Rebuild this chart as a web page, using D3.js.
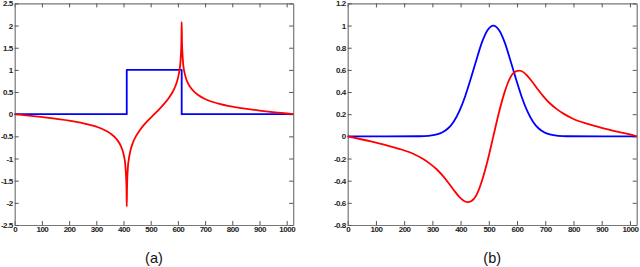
<!DOCTYPE html>
<html>
<head>
<meta charset="utf-8">
<script src="https://cdn.jsdelivr.net/npm/d3@7"></script>
<style>
    body { margin: 0; background: #fff; }
    svg { display: block; }
    .tick text { font-family: "Liberation Sans", Arial, sans-serif; font-size: 8px; font-weight: bold; letter-spacing: -0.5px; fill: #222; }
    .panel-label { font-family: "Liberation Sans", Arial, sans-serif; font-size: 14.5px; fill: #111; }
</style>
</head>
<body>
<svg id="svg"></svg>
<script>
// ---- data ----
const xTicks = [0, 100, 200, 300, 400, 500, 600, 700, 800, 900, 1000];
const yTicksA = [-2.5, -2, -1.5, -1, -0.5, 0, 0.5, 1, 1.5, 2, 2.5];
const yTicksB = [-0.8, -0.6, -0.4, -0.2, 0, 0.2, 0.4, 0.6, 0.8, 1, 1.2];
const panelLabels = ["(a)", "(b)"];

// (a) rectangle pulse
const rectX = [0, 412, 412, 614, 614, 1024];
const rectY = [0, 0, 1, 1, 0, 0];

// (a) its Hilbert transform
const hilbRectX = [0, 26, 60, 126, 200, 226, 280, 326, 350, 376, 390, 396, 402, 406, 409, 411, 412, 413, 416, 420, 426, 435, 446, 460, 476, 495, 513,
    531, 550, 566, 580, 591, 600, 606, 610, 613, 614, 615, 617, 620, 624, 630, 636, 650, 676, 700, 746, 800, 826, 900, 966, 1000, 1024];
const hilbRectY = [0, -0.016, -0.037, -0.083, -0.145, -0.171, -0.245, -0.344, -0.427, -0.573, -0.714, -0.807, -0.949, -1.10, -1.35, -1.65, -2.08, -1.67, -1.22, -1.0, -0.809, -0.637, -0.495, -0.36, -0.237, -0.111, 0,
    0.111, 0.237, 0.36, 0.495, 0.637, 0.809, 1.0, 1.22, 1.67, 2.08, 1.65, 1.35, 1.10, 0.949, 0.807, 0.714, 0.573, 0.427, 0.344, 0.245, 0.171, 0.145, 0.083, 0.037, 0.016, 0];

// (b) gaussian pulse
const gaussX = [0, 256, 286, 316, 336, 356, 376, 396, 416, 436, 456, 476, 496, 516, 536, 556, 576, 596, 616, 636, 656, 676, 696, 716, 746, 776, 1024];
const gaussY = [0, 0.001, 0.0045, 0.017, 0.037, 0.073, 0.135, 0.23, 0.36, 0.52, 0.69, 0.85, 0.96, 1, 0.96, 0.85, 0.69, 0.52, 0.36, 0.23, 0.135, 0.073, 0.037, 0.017, 0.0045, 0.001, 0];

// (b) its Hilbert transform
const hilbGaussX = [0, 32, 82, 132, 182, 232, 266, 291, 316, 338, 358, 377, 397, 417, 425, 437, 457, 476, 496, 516,
    536, 556, 575, 595, 607, 615, 635, 655, 674, 694, 716, 741, 766, 800, 850, 900, 950, 1000, 1024];
const hilbGaussY = [0, -0.017, -0.045, -0.076, -0.112, -0.157, -0.203, -0.246, -0.299, -0.359, -0.423, -0.488, -0.551, -0.590, -0.594, -0.586, -0.526, -0.399, -0.216, 0,
    0.216, 0.399, 0.526, 0.586, 0.594, 0.590, 0.551, 0.488, 0.423, 0.359, 0.299, 0.246, 0.203, 0.157, 0.112, 0.076, 0.045, 0.017, 0];

const width = 640;
const height = 267;

let svg = d3.select("#svg")
    .attr("width", width)
    .attr("height", height);

function zipXY(xs, ys) {
    return xs.map((x, i) => [x, ys[i]]);
}

// matlab style labels: plain hyphen, no thousands comma
function tickText(d) {
    return String(d);
}

function drawPanel(box, yDomain, yTicks, series, label) {
    let xScale = d3.scaleLinear().domain([0, 1024]).range([box.left, box.right]);
    let yScale = d3.scaleLinear().domain(yDomain).range([box.bottom, box.top]);

    let g = svg.append("g");

    // axes, ticks pointing inward
    g.append("g")
        .attr("transform", `translate(0,${box.bottom})`)
        .call(d3.axisBottom(xScale).tickValues(xTicks).tickSizeInner(-4).tickSizeOuter(0).tickPadding(1.5).tickFormat(tickText));

    g.append("g")
        .attr("transform", `translate(0,${box.top})`)
        .call(d3.axisTop(xScale).tickValues(xTicks).tickSizeInner(-4).tickSizeOuter(0).tickFormat(""));

    g.append("g")
        .attr("transform", `translate(${box.left},0)`)
        .call(d3.axisLeft(yScale).tickValues(yTicks).tickSizeInner(-4).tickSizeOuter(0).tickPadding(2).tickFormat(tickText));

    g.append("g")
        .attr("transform", `translate(${box.right},0)`)
        .call(d3.axisRight(yScale).tickValues(yTicks).tickSizeInner(-4).tickSizeOuter(0).tickFormat(""));

    g.selectAll(".domain").attr("stroke", "#777").attr("stroke-width", 1.2);
    g.selectAll(".tick line").attr("stroke", "#555");

    // the curves
    for (let s of series) {
        let line = d3.line()
            .curve(s.smooth ? d3.curveMonotoneX : d3.curveLinear)
            .x(d => xScale(d[0]))
            .y(d => yScale(d[1]));

        g.append("path")
            .datum(zipXY(s.x, s.y))
            .attr("fill", "none")
            .attr("stroke", s.color)
            .attr("stroke-width", 1.8)
            .attr("stroke-linejoin", "round")
            .attr("d", line);
    }

    // panel caption
    svg.append("text")
        .attr("class", "panel-label")
        .attr("x", (box.left + box.right) / 2)
        .attr("y", 263)
        .attr("text-anchor", "middle")
        .text(label);
}

drawPanel({ left: 14.7, right: 293.2, top: 3.4, bottom: 225 }, [-2.5, 2.5], yTicksA, [
    { x: rectX, y: rectY, color: "#0000ff", smooth: false },
    { x: hilbRectX, y: hilbRectY, color: "#ff0000", smooth: true }
], panelLabels[0]);

drawPanel({ left: 347.7, right: 636.7, top: 3.4, bottom: 225 }, [-0.8, 1.2], yTicksB, [
    { x: gaussX, y: gaussY, color: "#0000ff", smooth: true },
    { x: hilbGaussX, y: hilbGaussY, color: "#ff0000", smooth: true }
], panelLabels[1]);
</script>
</body>
</html>
